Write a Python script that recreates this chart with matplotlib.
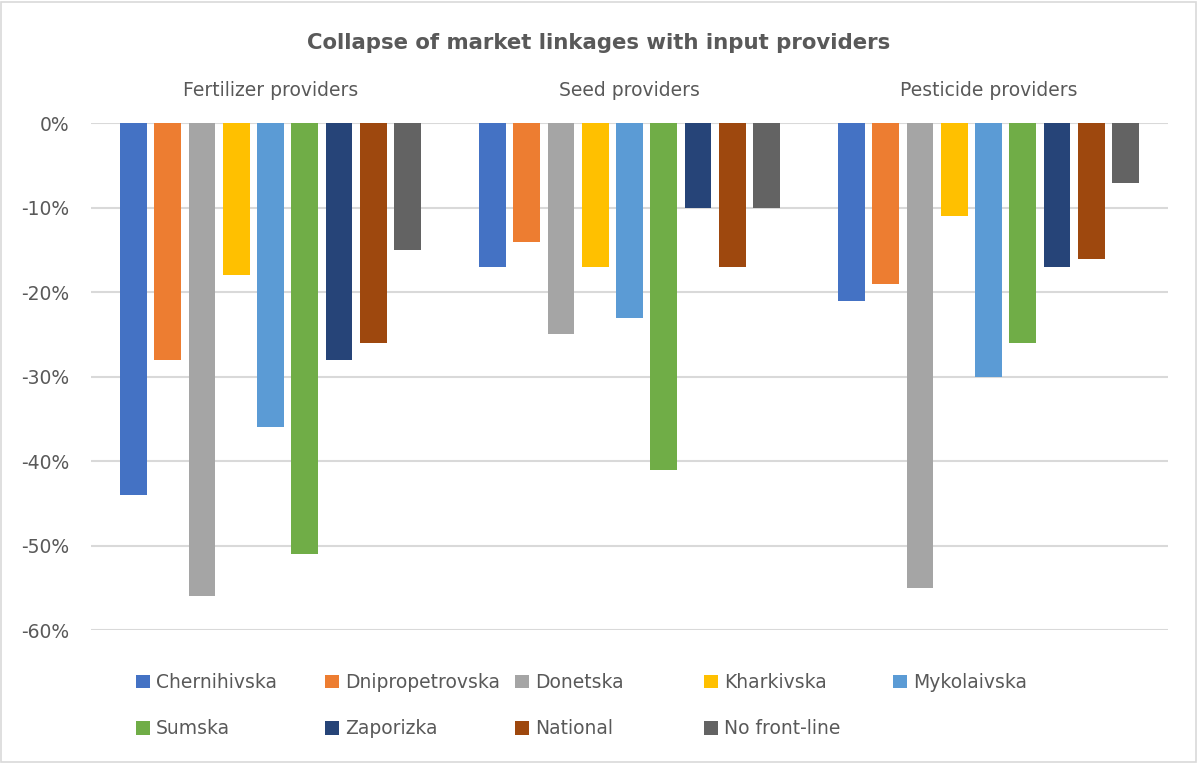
import numpy as np
import matplotlib
matplotlib.use("Agg")
import matplotlib.pyplot as plt
import matplotlib.transforms as mtransforms
from matplotlib.patches import Rectangle
from matplotlib.ticker import FuncFormatter

# dados (variacao percentual)
categorias = ["Fertilizer providers", "Seed providers", "Pesticide providers"]
regioes = ["Chernihivska", "Dnipropetrovska", "Donetska", "Kharkivska",
           "Mykolaivska", "Sumska", "Zaporizka", "National", "No front-line"]
chernihivska = [-44, -17, -21]
dnipropetrovska = [-28, -14, -19]
donetska = [-56, -25, -55]
kharkivska = [-18, -17, -11]
mykolaivska = [-36, -23, -30]
sumska = [-51, -41, -26]
zaporizka = [-28, -10, -17]
national = [-26, -17, -16]
no_front_line = [-15, -10, -7]

series = [chernihivska, dnipropetrovska, donetska, kharkivska, mykolaivska,
          sumska, zaporizka, national, no_front_line]
cores = ["#4472C4", "#ED7D31", "#A5A5A5", "#FFC000", "#5B9BD5",
         "#70AD47", "#264478", "#9E480E", "#636363"]

W, H = 1198, 763
TXT = "#595959"
FS = 13.5
plt.rcParams["font.family"] = "DejaVu Sans"

fig = plt.figure(figsize=(W / 100, H / 100), dpi=100)
fig.patches.append(Rectangle((1 / W, 1 / H), 1 - 3 / W, 1 - 3 / H,
                             transform=fig.transFigure, fill=False,
                             edgecolor="#D9D9D9", lw=1.2))

ax = fig.add_axes([91 / W, 1 - 630 / H, (1168 - 91) / W, (630 - 123) / H])

x = np.arange(len(categorias))
passo = 0.0955
largura = 0.0744
n = len(series)
barras = []
for i, (vals, cor) in enumerate(zip(series, cores)):
    off = (i - (n - 1) / 2) * passo
    b = ax.bar(x + off, np.array(vals) / 100.0, width=largura, color=cor,
               label=regioes[i], zorder=3)
    barras.append(b)

ax.set_xlim(-0.5, 2.5)
ax.set_yticks(np.arange(-0.6, 0.01, 0.1))
ax.yaxis.set_major_formatter(FuncFormatter(lambda v, p: "%d%%" % round(v * 100)))
ax.tick_params(axis="y", length=0, pad=15.5, labelsize=FS, labelcolor=TXT)
ax.set_xticks([])
ax.grid(True, axis="y", color="#D9D9D9", lw=1.5, zorder=0)
ax.set_ylim(-0.6, 0.0005)
for s in ax.spines.values():
    s.set_visible(False)

# rotulos das categorias no topo
trans = mtransforms.blended_transform_factory(ax.transData, fig.transFigure)
for xi, nome in zip(x, categorias):
    ax.text(xi, 1 - 91 / H, nome, transform=trans,
            ha="center", va="center", fontsize=FS, color=TXT)

fig.text(0.5, 1 - 43 / H, "Collapse of market linkages with input providers",
         ha="center", va="center", fontsize=15.3, fontweight="bold", color=TXT)

# legenda: uma coluna por vez para manter o espacamento uniforme
col_x = [136, 325, 515, 704, 893]
for j, cx in enumerate(col_x):
    idx = [k for k in (j, j + 5) if k < n]
    fig.legend([barras[k] for k in idx], [regioes[k] for k in idx],
               loc="upper left", bbox_to_anchor=(cx / W, 1 - 673 / H),
               frameon=False, borderpad=0, borderaxespad=0,
               handlelength=0.75, handleheight=0.75, handletextpad=0.3,
               labelspacing=1.45, fontsize=FS, labelcolor=TXT)

fig.savefig("out.png", dpi=100)
